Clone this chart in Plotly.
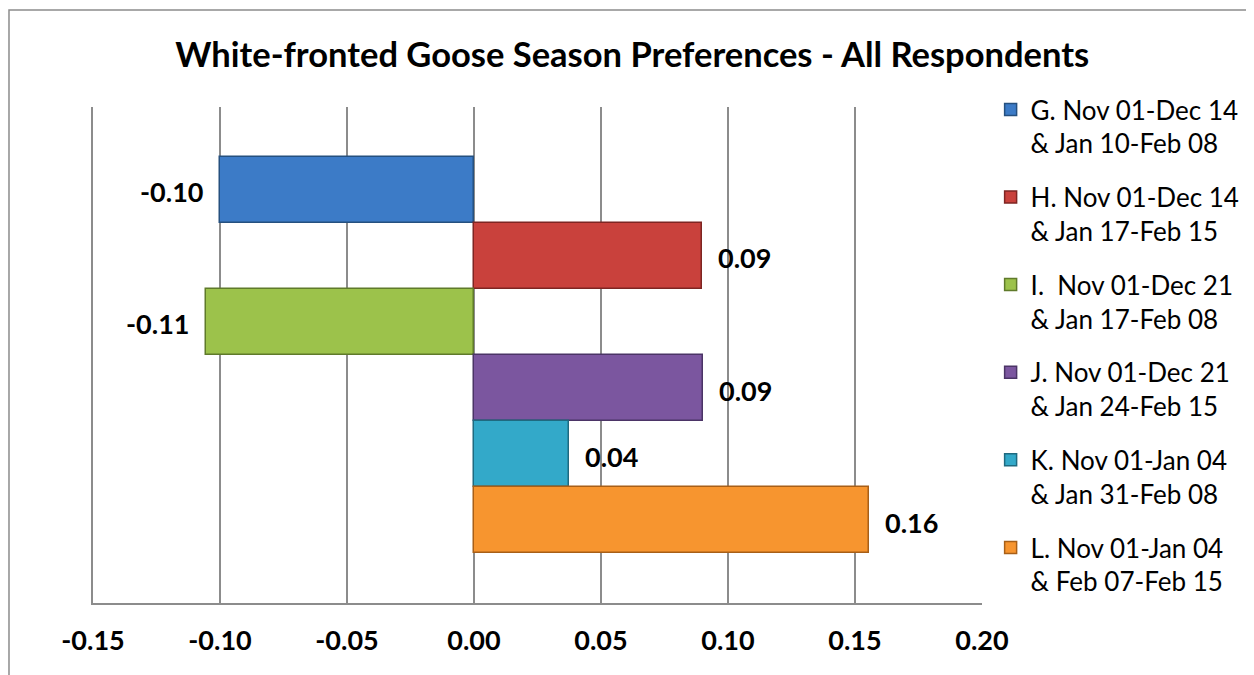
import plotly.graph_objects as go

# ---- data ----
series_ids = ["G", "H", "I", "J", "K", "L"]
series_names = [
    "G. Nov 01-Dec 14<br>& Jan 10-Feb 08",
    "H. Nov 01-Dec 14<br>& Jan 17-Feb 15",
    "I.  Nov 01-Dec 21<br>& Jan 17-Feb 08",
    "J. Nov 01-Dec 21<br>& Jan 24-Feb 15",
    "K. Nov 01-Jan 04<br>& Jan 31-Feb 08",
    "L. Nov 01-Jan 04<br>& Feb 07-Feb 15",
]
values = [-0.0999, 0.0896, -0.1057, 0.0903, 0.0373, 0.1554]
tick_vals = [-0.15, -0.10, -0.05, 0.00, 0.05, 0.10, 0.15, 0.20]
tick_text = ["-0.15", "-0.10", "-0.05", "0.00", "0.05", "0.10", "0.15", "0.20"]
fill_colors = ["#3C7BC7", "#C9413C", "#9CC24B", "#7B569F", "#33A9C9", "#F7952F"]
edge_colors = ["#25507F", "#7E2522", "#5F7A2A", "#4B3466", "#1F6A80", "#A85F17"]

FONT = "Lato, 'Open Sans', sans-serif"
GRID = "#8C8C8C"

fig = go.Figure()
for sid, name, v, fc, ec in zip(series_ids, series_names, values, fill_colors, edge_colors):
    fig.add_trace(go.Bar(
        y=[sid], x=[v], orientation="h", name=name,
        legendgroup=sid,
        marker=dict(color=fc, line=dict(color=ec, width=1.5)),
        hoverinfo="x+name",
    ))
    fig.add_annotation(
        x=v, y=sid, xref="x", yref="y",
        text=f"<b>{v:.2f}</b>", showarrow=False,
        xanchor="right" if v < 0 else "left",
        xshift=-15 if v < 0 else 14, yshift=-2,
        font=dict(family=FONT, size=27, color="#000000"),
    )

# outer chart border
fig.add_shape(type="rect", xref="paper", yref="paper",
              x0=-0.0945, x1=1.3035, y0=-0.16, y1=1.1956,
              line=dict(color=GRID, width=1.5), fillcolor="rgba(0,0,0,0)", layer="below")

fig.update_layout(
    width=1246, height=667,
    paper_bgcolor="white", plot_bgcolor="white",
    margin=dict(l=85, r=272, t=99, b=72, autoexpand=False),
    barmode="overlay", bargap=0,
    title=dict(text="<b>White-fronted Goose Season Preferences - All Respondents</b>",
               x=0.501, xanchor="center", y=0.9295, yanchor="middle",
               font=dict(family=FONT, size=34.5, color="#000000")),
    legend=dict(x=1.0097, xanchor="left", y=1.0423, yanchor="top",
                font=dict(family=FONT, size=26, color="#000000"),
                tracegroupgap=17, valign="top", itemwidth=30,
                maxheight=1000,
                bgcolor="rgba(0,0,0,0)"),
    showlegend=True,
)
fig.update_xaxes(range=[-0.15, 0.20], tickvals=tick_vals, ticktext=tick_text,
                 showgrid=True, gridcolor=GRID, gridwidth=1.5,
                 zeroline=False, showline=True, linecolor=GRID, linewidth=1.5,
                 tickfont=dict(family=FONT, size=27, color="#000000", weight="bold"),
                 ticks="", ticklabelstandoff=13)
fig.update_yaxes(type="category", categoryorder="array", categoryarray=series_ids,
                 range=[6.25, -1.25], showticklabels=False, showgrid=False,
                 zeroline=False, showline=True, linecolor=GRID, linewidth=1.5, ticks="")

fig.write_html("out.html")
